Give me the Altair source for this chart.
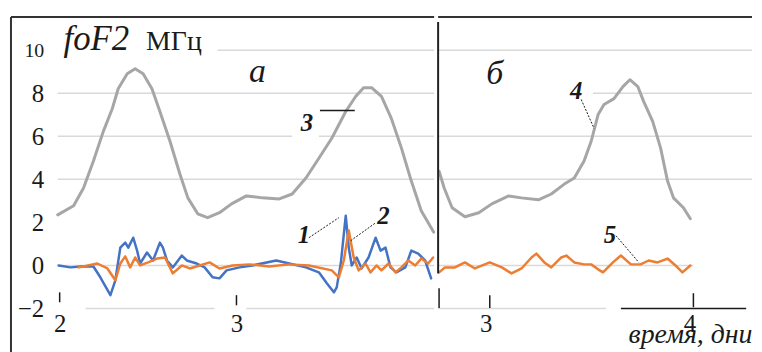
import altair as alt
import pandas as pd

# ---------------- data ----------------
# panel "а": days 2 .. ~4.1
a_gray_day = [1.989, 2.079, 2.135, 2.191, 2.247, 2.298, 2.331, 2.382, 2.427, 2.472, 2.522, 2.567,
              2.624, 2.680, 2.725, 2.781, 2.837, 2.904, 2.972, 3.056, 3.146, 3.242, 3.315, 3.393,
              3.466, 3.539, 3.618, 3.674, 3.719, 3.764, 3.820, 3.876, 3.933, 3.989, 4.045, 4.101, 4.115]
a_gray_val = [2.35, 2.77, 3.60, 4.85, 6.23, 7.29, 8.21, 8.91, 9.14, 8.91, 8.21, 7.15,
              5.77, 4.25, 3.14, 2.40, 2.22, 2.45, 2.86, 3.23, 3.14, 3.09, 3.32, 4.06,
              4.98, 5.91, 7.15, 7.85, 8.26, 8.26, 7.85, 6.83, 5.45, 3.92, 2.54, 1.75, 1.55]

a_blue_day = [1.994, 2.062, 2.118, 2.191, 2.230, 2.287, 2.315, 2.343, 2.371, 2.388, 2.416, 2.438,
              2.455, 2.494, 2.528, 2.567, 2.584, 2.607, 2.640, 2.691, 2.719, 2.775, 2.820, 2.865,
              2.904, 2.944, 3.017, 3.090, 3.225, 3.298, 3.393, 3.466, 3.511, 3.551, 3.567, 3.590,
              3.618, 3.635, 3.652, 3.680, 3.708, 3.747, 3.787, 3.815, 3.843, 3.871, 3.904, 3.955,
              3.989, 4.028, 4.067, 4.101]
a_blue_val = [0.00, -0.09, -0.05, -0.05, -0.55, -1.38, -0.69, 0.83, 1.06, 0.83, 1.29, 0.69,
              0.09, 0.60, 0.23, 1.06, 0.83, 0.23, -0.09, 0.46, 0.23, 0.09, -0.09, -0.55,
              -0.60, -0.23, -0.09, 0.00, 0.23, 0.09, -0.09, -0.32, -0.83, -1.25, -1.02, 0.09,
              2.31, 0.83, 0.00, 0.37, -0.14, 0.37, 1.29, 0.69, 0.83, -0.09, -0.32, -0.09,
              0.69, 0.55, 0.23, -0.60]

a_orange_day = [2.107, 2.213, 2.270, 2.315, 2.343, 2.371, 2.399, 2.427, 2.455, 2.500, 2.551, 2.596,
                2.640, 2.691, 2.736, 2.792, 2.848, 2.904, 2.978, 3.073, 3.185, 3.298, 3.410, 3.539,
                3.579, 3.607, 3.635, 3.663, 3.691, 3.730, 3.758, 3.792, 3.820, 3.860, 3.899, 3.933,
                3.972, 4.011, 4.045, 4.084, 4.112]
a_orange_val = [-0.09, 0.09, -0.14, -0.69, 0.09, 0.42, -0.09, 0.37, 0.00, 0.14, 0.32, 0.37,
                -0.37, 0.00, -0.14, 0.00, 0.14, -0.14, 0.00, 0.05, -0.05, 0.05, 0.00, -0.23,
                -0.55, 0.23, 1.62, 0.37, -0.23, 0.09, -0.32, 0.00, -0.23, 0.09, -0.32, -0.09,
                0.23, 0.00, 0.32, 0.09, 0.37]

# panel "б": days ~2.75 .. 4
b_gray_day = [2.751, 2.776, 2.815, 2.878, 2.946, 3.010, 3.093, 3.156, 3.239, 3.302, 3.366, 3.415,
              3.463, 3.498, 3.532, 3.561, 3.610, 3.654, 3.688, 3.727, 3.756, 3.800, 3.839, 3.873,
              3.902, 3.951, 3.985]
b_gray_val = [4.38, 3.60, 2.68, 2.26, 2.45, 2.86, 3.23, 3.14, 3.05, 3.32, 3.78, 4.06,
              4.85, 5.77, 7.01, 7.48, 7.75, 8.31, 8.63, 8.31, 7.61, 6.69, 5.45, 3.92,
              3.14, 2.68, 2.17]

b_orange_day = [2.751, 2.780, 2.829, 2.878, 2.927, 3.000, 3.059, 3.107, 3.156, 3.205, 3.229, 3.268,
                3.302, 3.351, 3.376, 3.415, 3.463, 3.498, 3.532, 3.556, 3.605, 3.644, 3.693, 3.741,
                3.780, 3.824, 3.873, 3.912, 3.946, 3.985]
b_orange_val = [-0.32, -0.09, -0.09, 0.14, -0.14, 0.14, -0.09, -0.37, -0.14, 0.37, 0.55, 0.14,
                -0.09, 0.37, 0.46, 0.14, 0.05, 0.05, -0.18, -0.32, 0.14, 0.46, 0.05, 0.05,
                0.23, 0.14, 0.32, 0.00, -0.32, 0.00]

# axes / tick labels
y_ticks = [-2, 0, 2, 4, 6, 8, 10]
a_x_ticks = [2, 3]
b_x_ticks = [3, 4]
x_title = "время, дни"
y_title_main = "foF2"
y_title_unit = "МГц"

# gridline segments (value, from-day, to-day)
a_grid_val = [10, 8, 6, 6, 4, 0, -2, -2]
a_grid_from = [2.893, 1.989, 1.989, 3.466, 1.989, 1.989, 2.146, 3.056]
a_grid_to = [4.118, 4.118, 3.315, 4.118, 4.118, 4.118, 2.876, 4.118]
b_grid_val = [10, 8, 6, 4, 0, -2]
b_grid_from = [2.746, 3.507, 2.746, 2.746, 2.746, 2.746]
b_grid_to = [4.288, 4.288, 4.288, 4.288, 4.000, 3.571]
b_base_from = [3.644]
b_base_to = [4.259]
b_base_val = [-2]

# small tick marks at the day positions
a_tick_day = [2.0, 3.0]
a_tick_lo = [-1.71, -1.85]
a_tick_hi = [-1.25, -1.38]
b_tick_day = [2.751, 3.0, 4.0]
b_tick_lo = [-1.98, -1.98, -1.94]
b_tick_hi = [-1.06, -1.38, -1.29]

# curve labels and leader lines
a_num_text = ["3", "1", "2"]
a_num_day = [3.399, 3.382, 3.831]
a_num_val = [6.23, 1.06, 1.94]
a_lead_x0 = [3.410, 3.646]
a_lead_x1 = [3.579, 3.787]
a_lead_y0 = [1.29, 1.15]
a_lead_y1 = [2.22, 1.98]
a_solid_x0 = [3.472]
a_solid_x1 = [3.669]
a_solid_y = [7.20]
b_num_text = ["4", "5"]
b_num_day = [3.424, 3.590]
b_num_val = [7.75, 1.06]
b_lead_x0 = [3.449, 3.620]
b_lead_x1 = [3.512, 3.732]
b_lead_y0 = [7.71, 1.38]
b_lead_y1 = [6.37, 0.14]
panel_text = ["а", "б"]
panel_day = [3.118, 3.024]
panel_val = [8.54, 8.45]
divider_top = [11.31]
divider_bot = [-0.37]
frame_bottom = [-4.2]

# ---------------- layout ----------------
XA = [1.7247, 4.118]
XB = [2.7463, 4.2878]
YD = [-3.369, 11.537]
WA, WB, H = 426, 316, 323
FONT = "Liberation Serif, Times New Roman, Times, serif"
INK = "#1a1a1a"
GRID = "#d9d9d9"
GRAY = "#a6a6a6"
BLUE = "#4472c4"
ORANGE = "#ed7d31"


def df(**cols):
    return pd.DataFrame(cols)


ax_ya = alt.Axis(values=y_ticks, orient="left", offset=-47, domain=False, ticks=False, tickSize=0,
                 grid=False, labelPadding=14, labelFont=FONT,
                 labelFontSize={"condition": {"test": "datum.value == 10", "value": 20}, "value": 25},
                 labelColor=INK, labelAlign="right", labelBaseline="middle",
                 labelOverlap=False, labelFlush=False, title=None)
ax_xa = alt.Axis(values=a_x_ticks, orient="bottom", offset=-30, domain=False, ticks=False, tickSize=0,
                 grid=False, labelPadding=3, labelFont=FONT, labelFontSize=25, labelColor=INK,
                 labelBaseline="top", labelFlush=False, labelOverlap=False, title=None)
ax_xb = alt.Axis(values=b_x_ticks, orient="bottom", offset=-30, domain=False, ticks=False, tickSize=0,
                 grid=False, labelPadding=3, labelFont=FONT, labelFontSize=25, labelColor=INK,
                 labelBaseline="top", labelFlush=False, labelOverlap=False, labelOffset=-4,
                 title=x_title, titleFont=FONT, titleFontStyle="italic", titleFontWeight="normal",
                 titleFontSize=28, titleColor=INK, titleX=316, titleY=35, titleAlign="right",
                 titleBaseline="alphabetic")


def XAe(f):
    return alt.X(f, type="quantitative", scale=alt.Scale(domain=XA, nice=False, zero=False), axis=ax_xa)


def YAe(f):
    return alt.Y(f, type="quantitative", scale=alt.Scale(domain=YD, nice=False, zero=False), axis=ax_ya)


def XBe(f):
    return alt.X(f, type="quantitative", scale=alt.Scale(domain=XB, nice=False, zero=False), axis=ax_xb)


def YBe(f):
    return alt.Y(f, type="quantitative", scale=alt.Scale(domain=YD, nice=False, zero=False), axis=None)


def line(d, v, color, w, X, Y):
    return alt.Chart(df(d=d, v=v)).mark_line(color=color, strokeWidth=w, strokeJoin="round",
                                             strokeCap="round").encode(x=X("d"), y=Y("v"))


def texts(t, d, v, X, Y, size, style="normal", weight="normal", align="center"):
    return alt.Chart(df(t=t, d=d, v=v)).mark_text(
        font=FONT, fontSize=size, fontStyle=style, fontWeight=weight, align=align,
        baseline="alphabetic", color=INK).encode(x=X("d"), y=Y("v"), text="t:N")


# ---------- panel а ----------
a_layers = [
    alt.Chart(df(v=a_grid_val, x0=a_grid_from, x1=a_grid_to)).mark_rule(color=GRID, strokeWidth=1.5)
    .encode(x=XAe("x0"), x2="x1", y=YAe("v")),
    alt.Chart(df(d=a_tick_day, lo=a_tick_lo, hi=a_tick_hi)).mark_rule(color=INK, strokeWidth=1.5)
    .encode(x=XAe("d"), y=YAe("lo"), y2="hi"),
    line(a_gray_day, a_gray_val, GRAY, 3, XAe, YAe),
    line(a_blue_day, a_blue_val, BLUE, 2.5, XAe, YAe),
    line(a_orange_day, a_orange_val, ORANGE, 2.5, XAe, YAe),
    alt.Chart(df(x0=a_lead_x0, x1=a_lead_x1, y0=a_lead_y0, y1=a_lead_y1))
    .mark_rule(color=INK, strokeWidth=1, strokeDash=[2, 1.5])
    .encode(x=XAe("x0"), x2="x1", y=YAe("y0"), y2="y1"),
    alt.Chart(df(x0=a_solid_x0, x1=a_solid_x1, y=a_solid_y)).mark_rule(color=INK, strokeWidth=1.5)
    .encode(x=XAe("x0"), x2="x1", y=YAe("y")),
    texts(a_num_text, a_num_day, a_num_val, XAe, YAe, 25, "italic", "bold"),
    texts(panel_text[:1], panel_day[:1], panel_val[:1], XAe, YAe, 34, "italic"),
    texts([y_title_main], [2.022], [10.01], XAe, YAe, 35, "italic", align="left"),
    texts([y_title_unit], [2.489], [10.01], XAe, YAe, 28, align="left"),
    alt.Chart(df(v=[YD[1]])).mark_rule(color="#333333", strokeWidth=2).encode(y=YAe("v")),
    alt.Chart(df(d=[XA[0]], t=[YD[1]], b=frame_bottom)).mark_rule(color="#333333", strokeWidth=2)
    .encode(x=XAe("d"), y=YAe("t"), y2="b"),
]
panel_a = alt.layer(*a_layers).properties(width=WA, height=H)

# ---------- panel б ----------
b_layers = [
    alt.Chart(df(v=b_grid_val, x0=b_grid_from, x1=b_grid_to)).mark_rule(color=GRID, strokeWidth=1.5)
    .encode(x=XBe("x0"), x2="x1", y=YBe("v")),
    alt.Chart(df(v=b_base_val, x0=b_base_from, x1=b_base_to)).mark_rule(color=INK, strokeWidth=1.5)
    .encode(x=XBe("x0"), x2="x1", y=YBe("v")),
    alt.Chart(df(d=b_tick_day, lo=b_tick_lo, hi=b_tick_hi)).mark_rule(color=INK, strokeWidth=1.5)
    .encode(x=XBe("d"), y=YBe("lo"), y2="hi"),
    line(b_gray_day, b_gray_val, GRAY, 3, XBe, YBe),
    line(b_orange_day, b_orange_val, ORANGE, 2.5, XBe, YBe),
    alt.Chart(df(x0=b_lead_x0, x1=b_lead_x1, y0=b_lead_y0, y1=b_lead_y1))
    .mark_rule(color=INK, strokeWidth=1, strokeDash=[2, 1.5])
    .encode(x=XBe("x0"), x2="x1", y=YBe("y0"), y2="y1"),
    texts(b_num_text, b_num_day, b_num_val, XBe, YBe, 25, "italic", "bold"),
    texts(panel_text[1:], panel_day[1:], panel_val[1:], XBe, YBe, 34, "italic"),
    alt.Chart(df(d=[XB[0]], t=divider_top, b=divider_bot)).mark_rule(color="#222222", strokeWidth=2)
    .encode(x=XBe("d"), y=YBe("t"), y2="b"),
    alt.Chart(df(v=[YD[1]])).mark_rule(color="#333333", strokeWidth=2).encode(y=YBe("v")),
]
panel_b = alt.layer(*b_layers).properties(width=WB, height=H)

chart = (
    alt.hconcat(panel_a, panel_b, spacing=0)
    .properties(padding={"left": 1, "top": 6, "right": 0, "bottom": 0}, background="white")
    .configure_view(stroke="transparent")
)

chart.save("out.html", embed_options={"renderer": "svg", "actions": False})
